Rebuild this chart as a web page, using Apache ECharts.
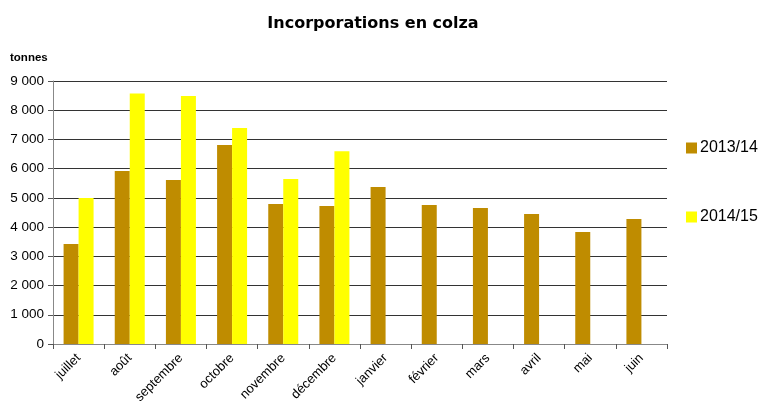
<!DOCTYPE html>
<html>
<head>
<meta charset="utf-8">
<script src="https://cdn.jsdelivr.net/npm/echarts@6/dist/echarts.min.js"></script>
<style>
html,body{margin:0;padding:0;background:#fff;}
#chart{width:761px;height:408px;}
</style>
</head>
<body>
<div id="chart"></div>
<script>
// Monthly rapeseed incorporations, tonnes
const months = ['juillet','août','septembre','octobre','novembre','décembre','janvier','février','mars','avril','mai','juin'];
const season1314 = [3420, 5920, 5610, 6810, 4790, 4720, 5370, 4760, 4650, 4450, 3830, 4280];
const season1415 = [5000, 8570, 8490, 7390, 5650, 6600, null, null, null, null, null, null];
const seriesNames = ['2013/14', '2014/15'];

const font = 'Liberation Sans, Arial, sans-serif';
const chart = echarts.init(document.getElementById('chart'));
chart.setOption({
  animation: false,
  backgroundColor: '#ffffff',
  title: [{
    text: 'Incorporations en colza',
    left: 368, top: 11, textAlign: 'center',
    textStyle: { fontFamily: 'DejaVu Sans', fontSize: 16, fontWeight: 'bold', color: '#000' }
  }, {
    text: 'tonnes',
    left: 5, top: 47,
    textStyle: { fontFamily: font, fontSize: 11.5, fontWeight: 'bold', color: '#000' }
  }],
  legend: {
    orient: 'vertical',
    left: 686, top: 140,
    padding: 0,
    itemGap: 53,
    itemWidth: 11, itemHeight: 11,
    icon: 'rect',
    textStyle: { fontFamily: font, fontSize: 16, color: '#000', padding: [0, 0, 0, -2] },
    data: seriesNames
  },
  grid: { left: 53, right: 94, top: 81, bottom: 64, containLabel: false },
  xAxis: {
    type: 'category',
    data: months,
    axisLine: { lineStyle: { color: '#888', width: 1 } },
    axisTick: { show: true, length: 5, lineStyle: { color: '#555' } },
    axisLabel: {
      rotate: 45, interval: 0, fontFamily: font, fontSize: 13, color: '#000', margin: 12
    }
  },
  yAxis: {
    type: 'value',
    min: 0, max: 9000, interval: 1000,
    axisLine: { show: true, lineStyle: { color: '#888' } },
    axisTick: { show: true, length: 5, lineStyle: { color: '#555' } },
    splitLine: { lineStyle: { color: '#333', width: 1 } },
    axisLabel: {
      fontFamily: font, fontSize: 13.5, color: '#000', margin: 9,
      formatter: v => v >= 1000 ? Math.floor(v / 1000) + ' ' + String(v % 1000).padStart(3, '0') : String(v)
    }
  },
  series: [{
    name: seriesNames[0], type: 'bar', data: season1314,
    barWidth: 15, barGap: '0%',
    itemStyle: { color: '#bf8c00' }
  }, {
    name: seriesNames[1], type: 'bar', data: season1415,
    barWidth: 15, barGap: '0%',
    itemStyle: { color: '#ffff00' }
  }]
});
</script>
</body>
</html>
